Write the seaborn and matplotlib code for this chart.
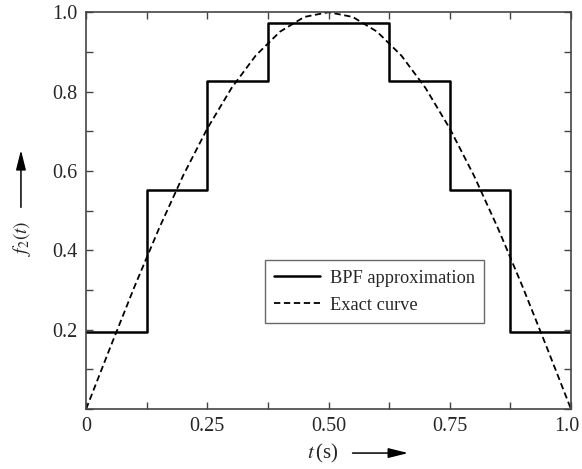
import numpy as np
import pandas as pd
import matplotlib
matplotlib.use('Agg')
import matplotlib.pyplot as plt
import matplotlib.transforms as mtransforms
import seaborn as sns
from matplotlib.ticker import MultipleLocator
from matplotlib.patches import FancyArrowPatch

# block pulse function values
bpf_edges = [0, 0.125, 0.25, 0.375, 0.5, 0.625, 0.75, 0.875, 1.0]
bpf_values = [0.195, 0.552, 0.826, 0.974, 0.974, 0.826, 0.552, 0.195]

# exact curve sample points
exact_t = [0, 0.05, 0.1, 0.15, 0.2, 0.25, 0.3, 0.35, 0.4, 0.45, 0.5,
           0.55, 0.6, 0.65, 0.7, 0.75, 0.8, 0.85, 0.9, 0.95, 1.0]
exact_y = [0, 0.156, 0.309, 0.454, 0.588, 0.707, 0.809, 0.891, 0.951, 0.988, 1.0,
           0.988, 0.951, 0.891, 0.809, 0.707, 0.588, 0.454, 0.309, 0.156, 0]

sns.set_style('ticks')
plt.rcParams['font.family'] = ['Liberation Serif', 'DejaVu Serif']
plt.rcParams['mathtext.fontset'] = 'stix'

df_bpf = pd.DataFrame({'t': bpf_edges, 'y': bpf_values + [bpf_values[-1]]})
df_exact = pd.DataFrame({'t': exact_t, 'y': exact_y})

fig = plt.figure(figsize=(5.82, 4.69), dpi=100)
ax = fig.add_axes([0.148, 0.128, 0.833, 0.846])

sns.lineplot(data=df_bpf, x='t', y='y', ax=ax, color='black', lw=1.8,
             drawstyle='steps-post', label='BPF approximation')
sns.lineplot(data=df_exact, x='t', y='y', ax=ax, color='black', lw=1.3,
             linestyle=(0, (3.5, 2)), label='Exact curve')

ax.set_xlim(0, 1.0)
ax.set_ylim(0, 1.0)
ax.set_xticks([0, 0.25, 0.5, 0.75, 1.0])
ax.set_xticklabels(['0', '0.25', '0.50', '0.75', '1.0'])
ax.set_yticks([0.2, 0.4, 0.6, 0.8, 1.0])
ax.set_yticklabels(['0.2', '0.4', '0.6', '0.8', '1.0'])
ax.xaxis.set_minor_locator(MultipleLocator(0.125))
ax.yaxis.set_minor_locator(MultipleLocator(0.1))
ax.tick_params(which='both', direction='in', top=True, right=True,
               length=5, width=1, color='#444444', labelsize=14.5, pad=6)
for s in ax.spines.values():
    s.set_linewidth(1.2)
    s.set_color('#444444')
ax.set_xlabel('')
ax.set_ylabel('')

# keep the last x tick label inside the figure
last = ax.get_xticklabels()[-1]
last.set_transform(last.get_transform() +
                   mtransforms.ScaledTranslation(-0.04, 0, fig.dpi_scale_trans))

leg = ax.legend(loc='lower right', bbox_to_anchor=(0.821, 0.217), borderaxespad=0,
                fontsize=13.2, frameon=True, fancybox=False, edgecolor='#444444',
                handlelength=2.5, handletextpad=0.55, borderpad=0.5, labelspacing=0.55)
leg.get_frame().set_linewidth(1.0)

# axis labels with arrows
fig.text(0.038, 0.493, r'$f_2(t)$', rotation=90, ha='center', va='center', fontsize=14)
fig.add_artist(FancyArrowPatch(
    (0.036, 0.552), (0.036, 0.686), transform=fig.transFigure, mutation_scale=10,
    arrowstyle='-|>,head_length=1.2,head_width=0.3', lw=1.1, color='black'))
fig.text(0.554, 0.034, r'$t\,$(s)', ha='center', va='center', fontsize=15)
fig.add_artist(FancyArrowPatch(
    (0.601, 0.034), (0.706, 0.034), transform=fig.transFigure, mutation_scale=10,
    arrowstyle='-|>,head_length=1.2,head_width=0.3', lw=1.1, color='black'))

fig.savefig('out.png', dpi=100)
